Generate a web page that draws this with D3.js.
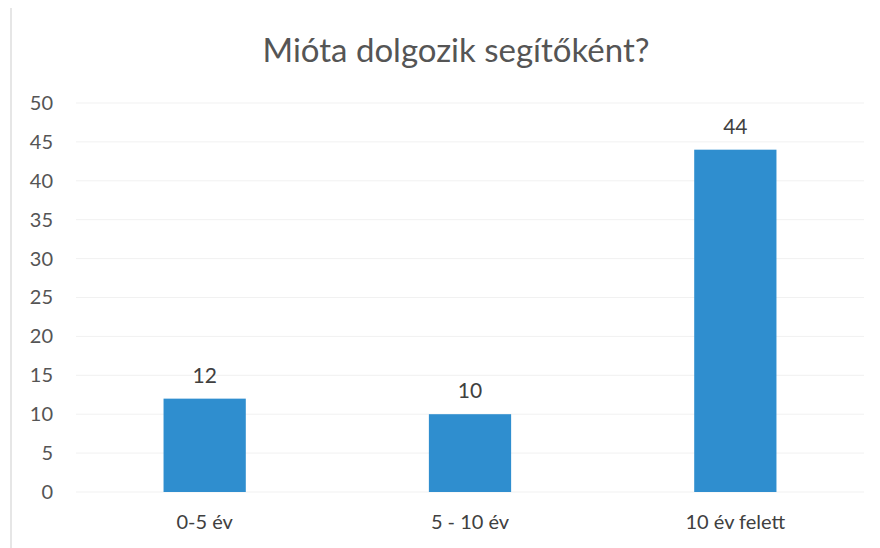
<!DOCTYPE html>
<html>
<head>
<meta charset="utf-8">
<script src="https://cdn.jsdelivr.net/npm/d3@7"></script>
<style>
  body { margin: 0; background: #fff; }
  svg { display: block; font-family: Lato, "Open Sans", sans-serif; }
</style>
</head>
<body>
<svg id="chart"></svg>
<script>
const categories = ["0-5 év", "5 - 10 év", "10 év felett"];
const values = [12, 10, 44];
const yTicks = [0, 5, 10, 15, 20, 25, 30, 35, 40, 45, 50];
const title = "Mióta dolgozik segítőként?";

const width = 880;
const height = 548;
const margin = { top: 103, right: 12, bottom: 57, left: 72 };

const svg = d3.select("#chart").attr("width", width).attr("height", height);

// faint page edge on the left
svg.append("line")
  .attr("x1", 11).attr("x2", 11)
  .attr("y1", 8).attr("y2", height)
  .style("stroke", "#e6e6e6")
  .style("stroke-width", 2);

const x = d3.scaleBand()
  .domain(categories)
  .range([margin.left, width - margin.right])
  .paddingInner(0.69)
  .paddingOuter(0.345);

const y = d3.scaleLinear()
  .domain([0, 50])
  .range([height - margin.bottom + 1, margin.top]);

// gridlines (very faint in the scan)
svg.append("g")
  .selectAll("line")
  .data(yTicks)
  .enter()
  .append("line")
  .attr("x1", margin.left + 4)
  .attr("x2", width - margin.right - 4)
  .attr("y1", (d) => y(d))
  .attr("y2", (d) => y(d))
  .style("stroke", "#f1f1f1")
  .style("stroke-width", 1);

// y axis labels
const yAxis = d3.axisLeft(y).tickValues(yTicks).tickSize(0).tickPadding(0);
const yg = svg.append("g")
  .attr("transform", `translate(53,0)`)
  .call(yAxis);
yg.select(".domain").remove();
yg.selectAll("text")
  .style("font-family", "Lato, 'Open Sans', sans-serif")
  .style("font-size", "20px")
  .style("fill", "#555");

// bars
svg.append("g")
  .selectAll("rect")
  .data(values)
  .enter()
  .append("rect")
  .attr("x", (d, i) => x(categories[i]))
  .attr("y", (d) => y(d))
  .attr("width", x.bandwidth())
  .attr("height", (d) => y(0) - y(d))
  .style("fill", "#2f8ecf");

// value labels
svg.append("g")
  .selectAll("text")
  .data(values)
  .enter()
  .append("text")
  .attr("x", (d, i) => x(categories[i]) + x.bandwidth() / 2)
  .attr("y", (d) => y(d) - 16)
  .attr("text-anchor", "middle")
  .text((d) => d)
  .style("font-size", "21px")
  .style("fill", "#404040");

// category labels
const xAxis = d3.axisBottom(x).tickSize(0).tickPadding(0);
const xg = svg.append("g")
  .attr("transform", `translate(0,${y(0) + 23})`)
  .call(xAxis);
xg.select(".domain").remove();
xg.selectAll("text")
  .style("font-family", "Lato, 'Open Sans', sans-serif")
  .style("font-size", "20px")
  .style("fill", "#404040");

// title
svg.append("text")
  .attr("x", 456)
  .attr("y", 62)
  .attr("text-anchor", "middle")
  .text(title)
  .style("font-size", "33px")
  .style("fill", "#555");
</script>
</body>
</html>
